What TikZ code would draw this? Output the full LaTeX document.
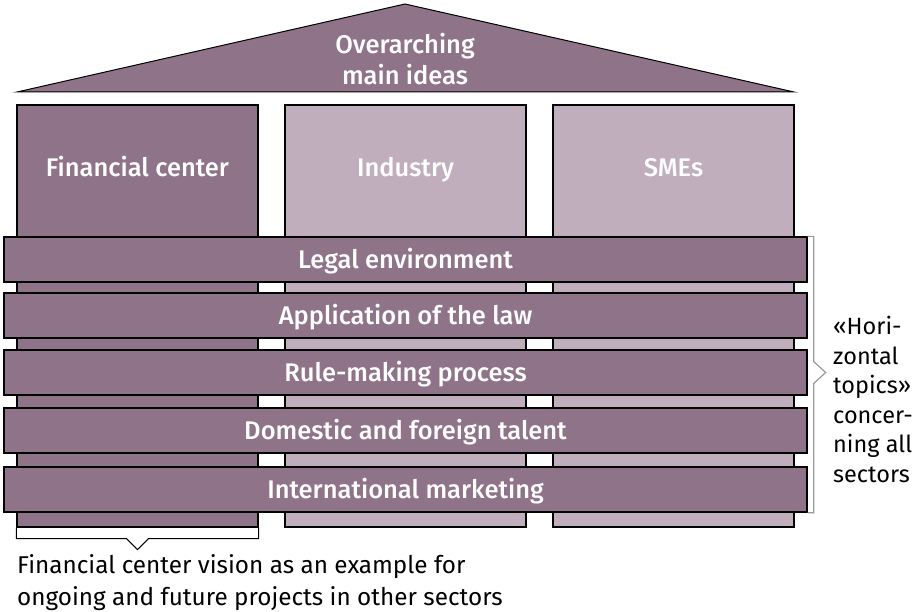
\documentclass[tikz,border=0pt]{standalone}
\usepackage{fontspec}
\setmainfont{Fira Sans}[BoldFont={Fira Sans Medium}]
\usepackage{tikz}
\usetikzlibrary{positioning}
\definecolor{clPillar}{HTML}{8F7389}
\definecolor{clPillarLight}{HTML}{C0AEBD}
\definecolor{clBrace}{HTML}{9A9A9A}
\tikzset{
  pillar/.style={rectangle, draw=black, line width=1.3pt, fill=clPillar,
                 minimum width=241pt, minimum height=422pt, inner sep=0pt},
  pillarlight/.style={pillar, fill=clPillarLight},
  pillarname/.style={text=white, font=\bfseries\fontsize{25.5}{31}\selectfont},
  beam/.style={rectangle, draw=black, line width=1.3pt, fill=clPillar,
               minimum width=803pt, minimum height=45pt, inner sep=0pt,
               text height=17pt, text depth=0pt,
               text=white, font=\bfseries\fontsize{25.5}{31}\selectfont},
  note/.style={align=left, inner sep=0pt, text=black},
  brace/.style={draw=clBrace, line width=1.2pt},
  footbrace/.style={draw=black, line width=1pt},
}

\begin{document}
\begin{tikzpicture}[x=1pt,y=-1pt]
  \useasboundingbox (0,0) rectangle (917,612);
  % roof
  \filldraw[fill=clPillar, draw=black, line width=1pt] (17,92) -- (405,4) -- (794,92) -- cycle;
  \node[pillarname, align=center] (roof) at (405,59) {Overarching\\main ideas};
  % the three sectors
  \node[pillar] (colFin) at (137.5,316) {};
  \node[pillarlight] (colInd) at (405.5,316) {};
  \node[pillarlight] (colSme) at (673.5,316) {};
  \node[pillarname, anchor=base] (labFin) at ([yshift=-72pt]colFin.north) {Financial center};
  \node[pillarname, anchor=base] (labInd) at ([yshift=-72pt]colInd.north) {Industry};
  \node[pillarname, anchor=base] (labSme) at ([yshift=-72pt]colSme.north) {SMEs};
  % horizontal topics
  \node[beam] (barLegal) at (405.5,259.5) {Legal environment};
  \node[beam] (barLaw) at (405.5,315.5) {Application of the law};
  \node[beam] (barRule) at (405.5,372.5) {Rule-making process};
  \node[beam] (barTalent) at (405.5,430.5) {Domestic and foreign talent};
  \node[beam] (barMarket) at (405.5,489.5) {International marketing};
  % right brace
  \draw[brace] (barLegal.north east) -- ++(6,0) coordinate (bTop)
    -- ([yshift=11pt]bTop |- barRule.center) -- ++(12,11) coordinate (bTip) -- ++(-12,11)
    -- (bTop |- barMarket.south) -- (barMarket.south east);
  \node[note, anchor=north west, font=\fontsize{23.5}{29.6}\selectfont] (horiz) at (833,316)
    {«Hori-\\zontal\\topics»\\concer-\\ning all\\sectors};
  % bracket under the financial center
  \draw[footbrace] (colFin.south west) -- ++(0,11) coordinate (fL) -- ([xshift=-11pt]fL -| colFin.south)
    -- ++(11,11) coordinate (fTip) -- ++(11,-11) -- (fL -| colFin.south east) -- (colFin.south east);
  \node[note, anchor=north west, font=\fontsize{24.3}{32}\selectfont] (example) at (17,554)
    {Financial center vision as an example for\\ongoing and future projects in other sectors};
\end{tikzpicture}
\end{document}
